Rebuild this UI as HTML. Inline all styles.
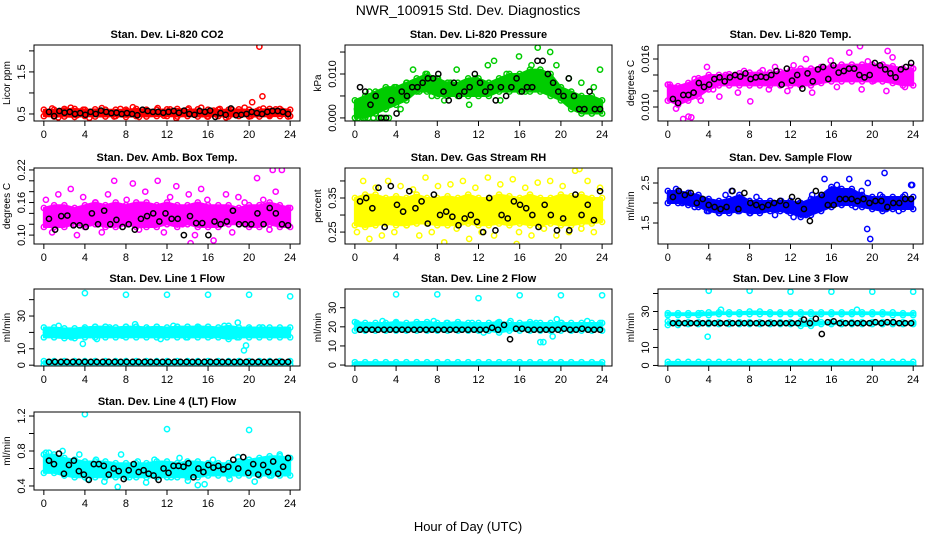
<!DOCTYPE html>
<html><head><meta charset="utf-8">
<style>
body{margin:0;background:#fff;}
svg{display:block;font-family:"Liberation Sans",sans-serif;}
</style></head>
<body>
<svg id="chart" width="936" height="540" viewBox="0 0 936 540" xmlns="http://www.w3.org/2000/svg">
<rect width="936" height="540" fill="#fff"/>
<text x="468" y="15" text-anchor="middle" font-size="14">NWR_100915  Std. Dev. Diagnostics</text>
<text x="468" y="531" text-anchor="middle" font-size="13">Hour of Day (UTC)</text>
</svg>
<script>
// ---- data ----
const xTicks=[0,4,8,12,16,20,24];
// CO2
const co2Lo=[0.45,0.44,0.44,0.43,0.45,0.44,0.44,0.45,0.43,0.45,0.44,0.45,0.45,0.44,0.45,0.44,0.44,0.45,0.44,0.45,0.44,0.44,0.45,0.45,0.45];
const co2Hi=[0.6,0.6,0.62,0.62,0.6,0.61,0.6,0.6,0.6,0.62,0.6,0.6,0.61,0.62,0.6,0.61,0.6,0.6,0.6,0.61,0.6,0.6,0.62,0.62,0.6];
const co2Scatter=[0.52,0.63,0.42,0.58,0.65,0.47,0.6,0.41,0.55,0.64,0.5,0.44,0.62,0.57,0.66,0.43,0.59,0.51,0.64,0.46,0.61,0.4,0.56,0.63,0.49,0.65,0.44,0.58,0.62,0.42,0.6,0.53,0.65,0.45,0.57,0.63,0.47,0.61,0.58,0.44];
const co2OutX=[20.3,21.3,21.0];
const co2OutY=[0.78,0.92,2.1];
const co2Black=[0.55,0.45,0.57,0.53,0.55,0.5,0.52,0.48,0.55,0.5,0.58,0.55,0.52,0.53,0.5,0.52,0.5,0.47,0.6,0.57,0.55,0.55,0.53,0.55,0.57,0.53,0.58,0.5,0.48,0.57,0.55,0.58,0.43,0.52,0.48,0.63,0.47,0.48,0.5,0.55,0.52,0.5,0.55,0.57,0.57,0.55,0.5];
// Pressure
const presLo=[0,0,0.001,0.002,0.003,0.004,0.006,0.006,0.005,0.005,0.005,0.005,0.005,0.005,0.006,0.006,0.006,0.006,0.006,0.005,0.004,0.002,0.001,0.001,0.001];
const presHi=[0.004,0.005,0.006,0.007,0.007,0.008,0.009,0.010,0.009,0.008,0.008,0.009,0.009,0.008,0.009,0.010,0.010,0.011,0.011,0.010,0.007,0.006,0.005,0.005,0.004];
const presScatter=[0.002,0,0.006,0.001,0,0.005,0.007,0.002,0.008,0.011,0.006,0.010,0.005,0.009,0.004,0.008,0.011,0.006,0.003,0.009,0.007,0.012,0.013,0.004,0.010,0.008,0.014,0.006,0.012,0.016,0.009,0.015,0.012,0.006,0.009,0.004,0.008,0.002,0.007,0.011];
const presOutX=[0.3,0.8,1.3,1.8,2.3,2.8,3.3];
const presOutY=[0,0,0,0,0,0,0];
const presBlack=[0.007,0.006,0.003,0.005,0,0,0.004,0.001,0.006,0.005,0.007,0.007,0.008,0.009,0.009,0.010,0.006,0.004,0.008,0.005,0.006,0.007,0.010,0.008,0.006,0.007,0.004,0.007,0.005,0.007,0.009,0.006,0.007,0.007,0.013,0.013,0.010,0.008,0.006,0.005,0.009,0.005,0.002,0.002,0.006,0.002,0.002];
// Li-820 Temp
const tempLo=[0.0108,0.0103,0.0108,0.0113,0.0122,0.0127,0.0127,0.0127,0.0127,0.0127,0.0127,0.0127,0.0127,0.0127,0.0127,0.0130,0.0132,0.0132,0.0132,0.0132,0.0132,0.0132,0.0130,0.0127,0.0127];
const tempHi=[0.0128,0.0126,0.0130,0.0136,0.0140,0.0140,0.0141,0.0142,0.0143,0.0143,0.0143,0.0144,0.0146,0.0148,0.0148,0.0150,0.0151,0.0153,0.0153,0.0153,0.0153,0.0153,0.0151,0.0148,0.0148];
const tempScatter=[0.0128,0.0098,0.0112,0.0088,0.0135,0.0108,0.0150,0.0122,0.0113,0.0140,0.0130,0.0118,0.0145,0.0107,0.0132,0.0146,0.0122,0.0150,0.0138,0.0120,0.0152,0.0128,0.0160,0.0118,0.0145,0.0135,0.0158,0.0125,0.0150,0.0168,0.0140,0.0122,0.0157,0.0133,0.0148,0.0120,0.0162,0.0138,0.0125,0.0150];
const tempOutX=[1.5,2.3,18.8,21.5];
const tempOutY=[0.0085,0.0087,0.0176,0.0170];
const tempBlack=[0.0110,0.0105,0.0115,0.0115,0.0118,0.0130,0.0125,0.0128,0.0135,0.0137,0.0132,0.0137,0.0140,0.0138,0.0142,0.0135,0.0137,0.0138,0.0137,0.0140,0.0145,0.0128,0.0148,0.0133,0.0140,0.0123,0.0142,0.0132,0.0147,0.0150,0.0135,0.0152,0.0143,0.0145,0.0148,0.0148,0.0140,0.0137,0.0140,0.0155,0.0152,0.0147,0.0142,0.0137,0.0147,0.0150,0.0155];
// Amb box temp
const ambLo=[0.115,0.115,0.115,0.12,0.115,0.12,0.115,0.115,0.12,0.115,0.115,0.115,0.12,0.115,0.12,0.115,0.115,0.115,0.12,0.12,0.115,0.115,0.12,0.115,0.115];
const ambHi=[0.15,0.155,0.155,0.15,0.155,0.16,0.155,0.16,0.155,0.16,0.16,0.155,0.16,0.155,0.155,0.16,0.155,0.155,0.155,0.15,0.155,0.155,0.16,0.155,0.15];
const ambScatter=[0.165,0.105,0.175,0.12,0.185,0.10,0.17,0.13,0.16,0.105,0.175,0.2,0.12,0.165,0.195,0.11,0.18,0.14,0.2,0.105,0.17,0.19,0.12,0.175,0.1,0.185,0.165,0.09,0.15,0.175,0.105,0.17,0.16,0.12,0.205,0.165,0.11,0.18,0.22,0.15];
const ambOutX=[14.3,22.3];
const ambOutY=[0.085,0.22];
const ambBlack=[0.13,0.11,0.135,0.136,0.118,0.118,0.115,0.14,0.12,0.145,0.12,0.128,0.115,0.12,0.11,0.13,0.135,0.14,0.125,0.14,0.13,0.13,0.1,0.135,0.122,0.122,0.1,0.125,0.12,0.125,0.145,0.12,0.12,0.12,0.14,0.12,0.15,0.14,0.12,0.118];
// Gas stream RH
const rhLo=[0.27,0.265,0.27,0.275,0.27,0.27,0.275,0.275,0.27,0.27,0.27,0.275,0.27,0.27,0.275,0.27,0.275,0.27,0.27,0.275,0.27,0.27,0.275,0.275,0.28];
const rhHi=[0.35,0.36,0.36,0.35,0.355,0.35,0.36,0.35,0.35,0.355,0.35,0.36,0.35,0.35,0.36,0.355,0.35,0.36,0.35,0.35,0.36,0.355,0.36,0.35,0.35];
const rhScatter=[0.25,0.4,0.23,0.38,0.24,0.4,0.25,0.385,0.27,0.375,0.24,0.41,0.25,0.385,0.22,0.39,0.26,0.4,0.23,0.38,0.25,0.41,0.24,0.39,0.2,0.405,0.25,0.38,0.24,0.395,0.26,0.4,0.24,0.385,0.25,0.43,0.26,0.4,0.25,0.38];
const rhOutX=[15.7,21.8];
const rhOutY=[0.215,0.435];
const rhBlack=[0.34,0.35,0.32,0.38,0.265,0.385,0.33,0.31,0.37,0.32,0.34,0.275,0.36,0.3,0.31,0.295,0.27,0.29,0.3,0.28,0.25,0.35,0.255,0.3,0.29,0.34,0.33,0.32,0.3,0.265,0.33,0.3,0.255,0.29,0.255,0.36,0.3,0.33,0.285,0.37];
// Sample flow
const sfLo=[2.0,2.0,1.95,1.9,1.8,1.75,1.75,1.8,1.75,1.75,1.8,1.8,1.75,1.65,1.7,1.8,1.9,1.95,1.95,1.9,1.85,1.8,1.85,1.85,1.85];
const sfHi=[2.3,2.3,2.25,2.2,2.1,2.05,2.1,2.2,2.05,2.05,2.05,2.05,2.05,2.0,2.1,2.2,2.4,2.35,2.35,2.2,2.15,2.15,2.15,2.15,2.15];
const sfScatter=[2.1,2.35,2.0,2.25,1.9,2.1,1.8,2.0,1.75,2.2,2.3,1.8,2.05,1.75,2.15,1.9,2.0,1.7,2.05,1.8,1.65,2.0,1.7,2.2,1.9,2.6,2.3,2.45,2.0,2.6,1.9,2.3,2.5,1.95,2.2,1.85,2.05,1.8,2.2,2.45];
const sfOutX=[19.5,19.8,21.2,23.9];
const sfOutY=[1.35,1.1,2.75,2.45];
const sfBlack=[2.15,2.3,2.2,2.25,2.0,2.1,1.95,1.9,1.85,1.9,2.3,1.85,2.25,2.0,1.95,1.9,1.95,2.0,2.05,1.95,2.15,2.05,1.85,1.55,2.3,2.2,1.95,1.95,2.1,2.1,2.1,2.05,2.1,2.0,2.05,2.05,1.9,2.0,2.0,2.1,2.1];
// Line 1 flow
const l1Lo=[17,17,16.5,16.5,17,17,17,17,17,17,17,17,17,17,17,17,17,17,16,17,17,17,17,17,17];
const l1Hi=[23,23,22.5,22.5,23,23.5,23.5,23,23.5,23.5,23,23.5,23,23.5,23.5,23.5,23.5,23,24,23,23,23,23,23,23];
const l1Lo2=[0.5,0.5,0.5,0.5,0.5,0.5,0.5,0.5,0.5,0.5,0.5,0.5,0.5,0.5,0.5,0.5,0.5,0.5,0.5,0.5,0.5,0.5,0.5,0.5,0.5];
const l1Hi2=[2.5,2.5,2.5,2.5,2.5,2.5,2.5,2.5,2.5,2.5,2.5,2.5,2.5,2.5,2.5,2.5,2.5,2.5,2.5,2.5,2.5,2.5,2.5,2.5,2.5];
const l1Scatter=[20,24,17,22,16,23,18,25,22,16,24,17,23,18,24,17,22,23,19,21];
const l1OutX=[3.8,4,8,12,16,20,24,18.9,19.5,19.7];
const l1OutY=[13,44,43,43,43,43,42,26,9,12];
const l1Black=[2,2,2,2,2,2,2,2,2,2,2,2,2,2,2,2,2,2,2,2,2,2,2,2,2,2,2,2,2,2,2,2,2,2,2,2,2,2,2,2,2];
// Line 2 flow
const l2Lo=[18,18,18,18,18,18,18,18,18,18,18,18,18,18,17,18,18,18,18,18,18,18,18,18,18];
const l2Hi=[22.5,22,22,22,22.5,22,22.5,22.5,22,22,22.5,22,22,22,22.5,22,22,22.5,22,22,22,22,22,22,22];
const l2Lo2=[0,0,0,0,0,0,0,0,0,0,0,0,0,0,0,0,0,0,0,0,0,0,0,0,0];
const l2Hi2=[1.5,1.5,1.5,1.5,1.5,1.5,1.5,1.5,1.5,1.5,1.5,1.5,1.5,1.5,1.5,1.5,1.5,1.5,1.5,1.5,1.5,1.5,1.5,1.5,1.5];
const l2Scatter=[22,21,23,22,20,21,23,22,21,22,20,22,23,21,22,21,22,20,23,22];
const l2OutX=[4,8,12,16,20,24,18,18.3,19.2,19.6,12.5];
const l2OutY=[37,37,35,36.5,36.5,36.5,12,12,15,24,17];
const l2Black=[18.5,18.5,18.5,18.5,18.5,18.5,18.5,18.5,18.5,18.5,18.5,18.5,18.5,18.5,18.5,18.5,18.5,18.5,18.5,18.5,18.5,18.5,19.5,18.5,21,13.5,19,19,18.5,18.5,18.5,18.5,18.5,18.5,19,18.5,18.5,19,18.5,18.5,18.5];
// Line 3 flow
const l3Lo=[28,28,28,28,28,28.5,28.5,28.5,28.5,28.5,28.5,28.5,28.5,28.5,28.5,28.5,28.5,28.5,28.5,28.5,28.5,28.5,28,28,28];
const l3Hi=[29,29,29,29,29.5,29.5,29.5,29.5,30,30,29.5,29.5,29.5,29.5,29.5,29.5,29.5,29.5,29.5,29.5,29.5,29.5,29.5,29,29];
const l3Lo2=[0.5,0.5,0.5,0.5,0.5,0.5,0.5,0.5,0.5,0.5,0.5,0.5,0.5,0.5,0.5,0.5,0.5,0.5,0.5,0.5,0.5,0.5,0.5,0.5,0.5];
const l3Hi2=[2,2,2,2,2,2,2,2,2,2,2,2,2,2,2,2,2,2,2,2,2,2,2,2,2];
const l3Lo3=[22.5,22.5,23,23,23,23,23,23,23,23,23,23,23,22,22,23,23,23,23,23,23,23,23,23,23];
const l3Hi3=[24.5,24,24,24,24,24,24,24,24,24,24,24,24,24.5,24.5,24,24,24,24,24,24,24,24,24,24];
const l3OutX=[4,8,12,16,20,24,3.9,3.3,5.2,18.5];
const l3OutY=[41.5,41.5,41,41,41,41,16,29,31,31];
const l3Black=[23.5,23.5,23.5,23.5,23.5,23.5,23.5,23.5,23.5,23.5,23.5,23.5,23.5,23.5,23.5,23.5,23.5,23.5,23.5,23.5,23.5,23.5,25.5,23.5,26,17.5,24,24.5,23.5,23.5,23.5,23.5,23.5,23.5,24,23.5,24,24,23.5,23.5,23.5];
// Line 4 flow
const l4Lo=[0.55,0.55,0.52,0.5,0.5,0.5,0.5,0.5,0.5,0.5,0.5,0.5,0.5,0.5,0.5,0.5,0.52,0.52,0.52,0.52,0.52,0.52,0.52,0.52,0.52];
const l4Hi=[0.76,0.76,0.72,0.7,0.68,0.68,0.68,0.66,0.66,0.66,0.66,0.68,0.68,0.66,0.68,0.68,0.66,0.66,0.66,0.68,0.7,0.72,0.74,0.74,0.72];
const l4Scatter=[0.78,0.62,0.8,0.55,0.76,0.48,0.7,0.45,0.6,0.76,0.5,0.68,0.44,0.7,0.62,0.5,0.72,0.46,0.65,0.42,0.7,0.55,0.48,0.73,0.6,0.45,0.7,0.52,0.76,0.72];
const l4OutX=[4,12,20,7.2,15,0.5];
const l4OutY=[1.22,1.05,1.04,0.39,0.41,0.78];
const l4Black=[0.69,0.65,0.77,0.54,0.64,0.69,0.57,0.53,0.47,0.65,0.65,0.63,0.53,0.6,0.57,0.48,0.58,0.65,0.56,0.58,0.54,0.52,0.47,0.6,0.55,0.63,0.63,0.62,0.66,0.5,0.6,0.56,0.64,0.61,0.63,0.59,0.62,0.7,0.6,0.73,0.55,0.65,0.53,0.64,0.56,0.68,0.54,0.62,0.72];

// ---- layout ----
const cols=[[34,300],[345,612],[658,923]];
const rows=[[45,121],[168,244],[289,366],[412,490]];
const panels=[
 {id:'co2',t:'Stan. Dev. Li-820 CO2',yl:'Licor ppm',c:'#ff0000',col:0,row:0,ylim:[0.333,2.14],yt:[0.5,1.0,1.5,2.0],ytl:['0.5','','1.5',''],bands:[[co2Lo,co2Hi]],sc:co2Scatter,ox:co2OutX,oy:co2OutY,bk:co2Black},
 {id:'pressure',t:'Stan. Dev. Li-820 Pressure',yl:'kPa',c:'#00cc00',col:1,row:0,ylim:[-0.0007,0.0166],yt:[0,0.005,0.010,0.015],ytl:['0.000','','0.010',''],bands:[[presLo,presHi]],sc:presScatter,ox:presOutX,oy:presOutY,bk:presBlack},
 {id:'li820-temp',t:'Stan. Dev. Li-820 Temp.',yl:'degrees C',c:'#ff00ff',col:2,row:0,ylim:[0.00825,0.01775],yt:[0.010,0.012,0.014,0.016],ytl:['0.010','','','0.016'],bands:[[tempLo,tempHi]],sc:tempScatter,ox:tempOutX,oy:tempOutY,bk:tempBlack},
 {id:'amb-box-temp',t:'Stan. Dev. Amb. Box Temp.',yl:'degrees C',c:'#ff00ff',col:0,row:1,ylim:[0.0836,0.2236],yt:[0.10,0.12,0.14,0.16,0.18,0.20,0.22],ytl:['0.10','','','0.16','','','0.22'],bands:[[ambLo,ambHi]],sc:ambScatter,ox:ambOutX,oy:ambOutY,bk:ambBlack},
 {id:'gas-rh',t:'Stan. Dev. Gas Stream RH',yl:'percent',c:'#ffff00',col:1,row:1,ylim:[0.215,0.438],yt:[0.25,0.30,0.35,0.40],ytl:['0.25','','0.35',''],bands:[[rhLo,rhHi]],sc:rhScatter,ox:rhOutX,oy:rhOutY,bk:rhBlack},
 {id:'sample-flow',t:'Stan. Dev. Sample Flow',yl:'ml/min',c:'#0000ff',col:2,row:1,ylim:[0.975,2.875],yt:[1.5,2.0,2.5],ytl:['1.5','','2.5'],bands:[[sfLo,sfHi]],sc:sfScatter,ox:sfOutX,oy:sfOutY,bk:sfBlack},
 {id:'line1-flow',t:'Stan. Dev. Line 1 Flow',yl:'ml/min',c:'#00ffff',col:0,row:2,ylim:[-0.5,46.5],yt:[0,10,20,30,40],ytl:['0','10','','30',''],bands:[[l1Lo,l1Hi],[l1Lo2,l1Hi2]],sc:l1Scatter,ox:l1OutX,oy:l1OutY,bk:l1Black},
 {id:'line2-flow',t:'Stan. Dev. Line 2 Flow',yl:'ml/min',c:'#00ffff',col:1,row:2,ylim:[-0.5,39.8],yt:[0,10,20,30],ytl:['0','10','20','30'],bands:[[l2Lo,l2Hi],[l2Lo2,l2Hi2]],sc:l2Scatter,ox:l2OutX,oy:l2OutY,bk:l2Black},
 {id:'line3-flow',t:'Stan. Dev. Line 3 Flow',yl:'ml/min',c:'#00ffff',col:2,row:2,ylim:[-0.3,42.5],yt:[0,10,20,30,40],ytl:['0','10','','30',''],bands:[[l3Lo,l3Hi],[l3Lo2,l3Hi2],[l3Lo3,l3Hi3]],sc:[],ox:l3OutX,oy:l3OutY,bk:l3Black},
 {id:'line4-flow',t:'Stan. Dev. Line 4 (LT) Flow',yl:'ml/min',c:'#00ffff',col:0,row:3,ylim:[0.354,1.246],yt:[0.4,0.6,0.8,1.0,1.2],ytl:['0.4','','0.8','','1.2'],bands:[[l4Lo,l4Hi]],sc:l4Scatter,ox:l4OutX,oy:l4OutY,bk:l4Black}
];
const NS='http://www.w3.org/2000/svg';
const svg=document.getElementById('chart');
function mk(tag,attrs,parent){const e=document.createElementNS(NS,tag);for(const k in attrs)e.setAttribute(k,attrs[k]);(parent||svg).appendChild(e);return e;}
panels.forEach(p=>{
  const [x0,x1]=cols[p.col],[y0,y1]=rows[p.row];
  const g=mk('g',{});
  
  
  const xs=h=>x0+(x1-x0)*(h+0.96)/25.92;
  const ys=v=>y1-(y1-y0)*(v-p.ylim[0])/(p.ylim[1]-p.ylim[0]);
  const clipId='clip-'+p.id;
  const cp=mk('clipPath',{id:clipId},g);mk('rect',{x:x0,y:y0,width:x1-x0,height:y1-y0},cp);
  const plot=mk('g',{'clip-path':'url(#'+clipId+')'},g);
  
  
  p.bands.forEach(([lo,hi])=>{
    let pts=[];
    hi.forEach((v,i)=>pts.push(xs(i*24/(hi.length-1))+','+ys(v)));
    for(let i=lo.length-1;i>=0;i--)pts.push(xs(i*24/(lo.length-1))+','+ys(lo[i]));
    const poly=mk('polygon',{points:pts.join(' '),fill:p.c,stroke:p.c,'stroke-width':2,'stroke-linejoin':'round'},plot);
    
    
    hi.forEach((v,i)=>{const c=mk('circle',{cx:xs(i*24/(hi.length-1)),cy:ys(v),r:2.6,fill:'none',stroke:p.c,'stroke-width':1.5},plot);
      
      });
    lo.forEach((v,i)=>{const c=mk('circle',{cx:xs(i*24/(lo.length-1)),cy:ys(v),r:2.6,fill:'none',stroke:p.c,'stroke-width':1.5},plot);
      
      });
  });
  p.sc.forEach((v,i)=>{const c=mk('circle',{cx:xs(0.2+i*23.6/(p.sc.length-1)),cy:ys(v),r:2.6,fill:'none',stroke:p.c,'stroke-width':1.5},plot);
    
    });
  p.ox.forEach((h,i)=>{const c=mk('circle',{cx:xs(h),cy:ys(p.oy[i]),r:2.6,fill:'none',stroke:p.c,'stroke-width':1.5},plot);
    
    });
  p.bk.forEach((v,i)=>{const c=mk('circle',{cx:xs(0.5+i*23.3/(p.bk.length-1)),cy:ys(v),r:2.6,fill:'none',stroke:'#000','stroke-width':1.5},plot);
    
    });
  const box=mk('rect',{x:x0,y:y0,width:x1-x0,height:y1-y0,fill:'none',stroke:'#000','stroke-width':1},g);
  
  
  const tt=mk('text',{x:(x0+x1)/2,y:y0-7,'text-anchor':'middle','font-size':11,'font-weight':'bold'},g);tt.textContent=p.t;
  
  
  xTicks.forEach(h=>{mk('line',{x1:xs(h),x2:xs(h),y1:y1,y2:y1+5,stroke:'#000'},g);
    const t=mk('text',{x:xs(h),y:y1+17,'text-anchor':'middle','font-size':11},g);t.textContent=h;
    
    });
  p.yt.forEach((v,i)=>{const y=ys(v);mk('line',{x1:x0,x2:x0-5,y1:y,y2:y,stroke:'#000'},g);
    if(p.ytl[i]){const t=mk('text',{x:x0-9,y:y,'text-anchor':'middle','font-size':11,transform:'rotate(-90 '+(x0-9)+' '+y+')'},g);t.textContent=p.ytl[i];
      
      }});
  const yc=(y0+y1)/2;
  const yl=mk('text',{x:x0-24,y:yc,'text-anchor':'middle','font-size':10,transform:'rotate(-90 '+(x0-24)+' '+yc+')'},g);yl.textContent=p.yl;
  
  
});
</script>
</body></html>
